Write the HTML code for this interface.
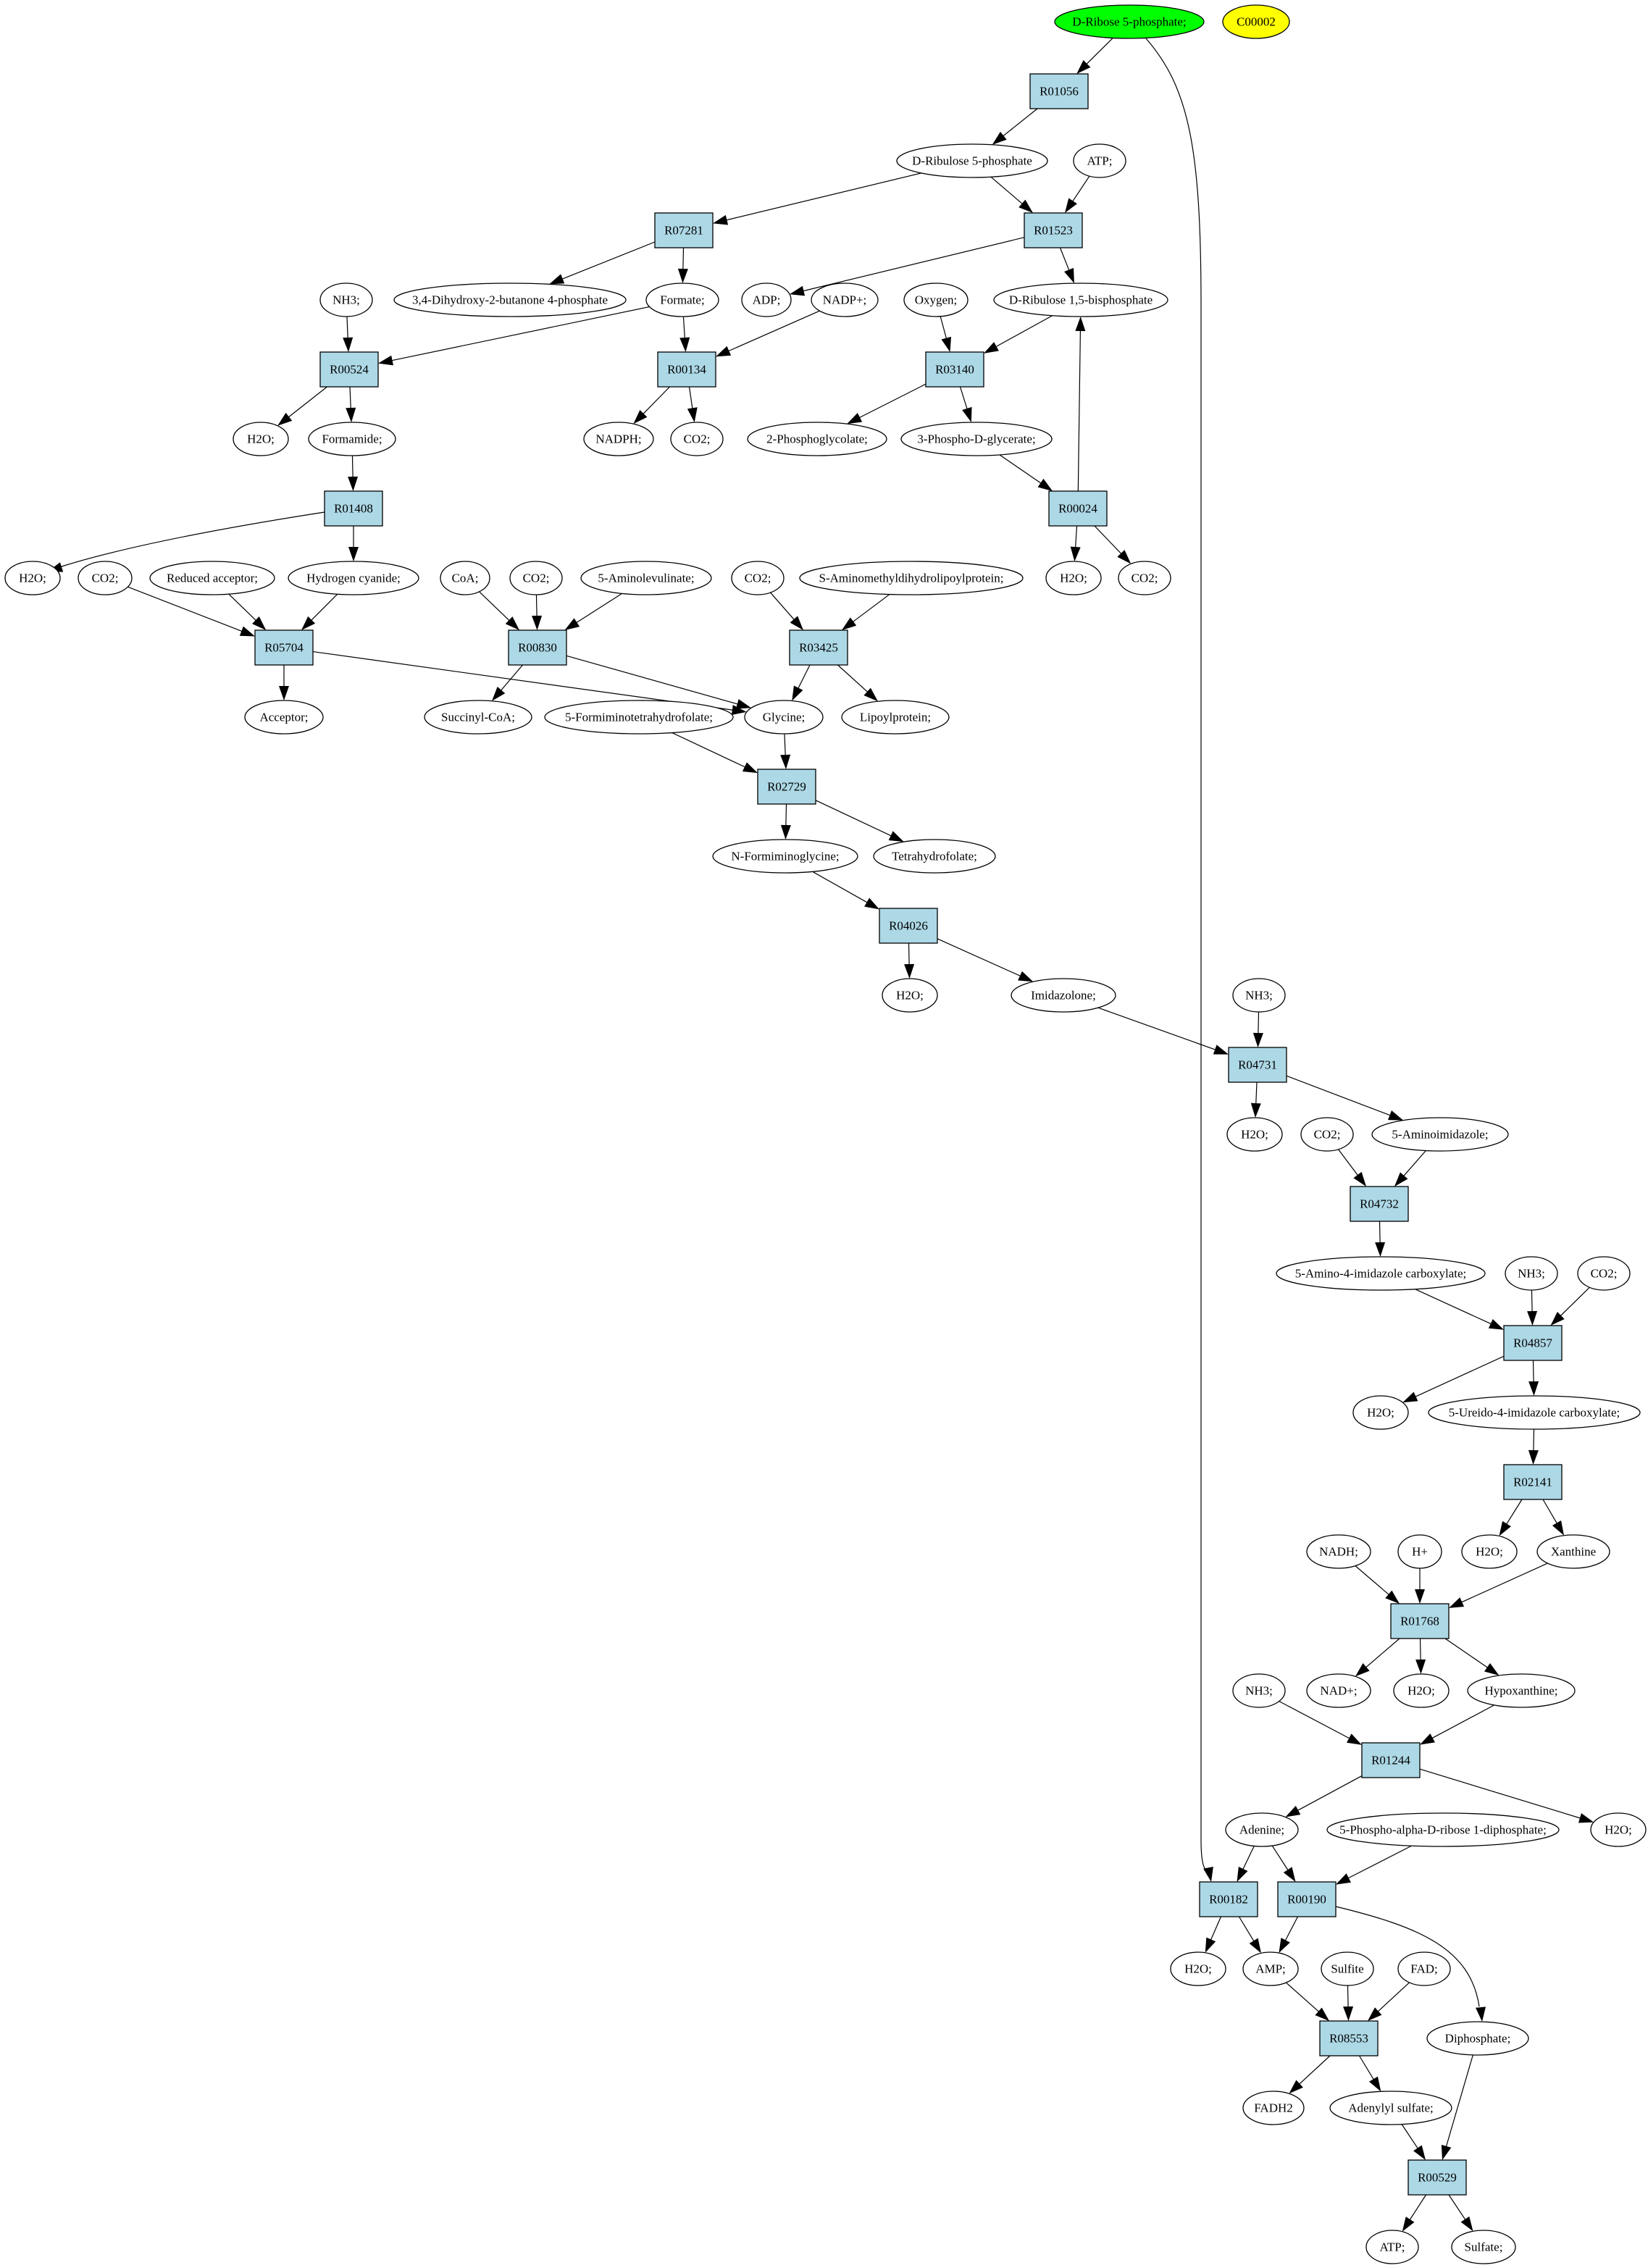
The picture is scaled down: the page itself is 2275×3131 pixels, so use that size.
<!DOCTYPE html>
<html><head><meta charset="utf-8"><style>
html,body{margin:0;padding:0;background:#fff}
svg{display:block}
text{font-family:"Liberation Serif",serif;font-size:17px;text-anchor:middle;dominant-baseline:central;fill:#000}
ellipse{fill:#fff;stroke:#000;stroke-width:1.3}
rect{fill:#add8e6;stroke:#000;stroke-width:1.3}
.ed{stroke:#000;stroke-width:1.2;fill:none}
</style></head><body>
<svg id="s" width="2275" height="3131" viewBox="0 0 2275 3131" xmlns="http://www.w3.org/2000/svg">
<g id="edges"></g>
<g id="nodes">
<g id="rib" data-t="e" data-x="1559" data-y="30" data-r="103"><ellipse cx="1559" cy="30" rx="103" ry="23" style="fill:#00ff00"/><text x="1559" y="30">D-Ribose 5-phosphate;</text></g>
<g id="c2" data-t="e" data-x="1734" data-y="30" data-r="46"><ellipse cx="1734" cy="30" rx="46" ry="23" style="fill:#ffff00"/><text x="1734" y="30">C00002</text></g>
<g id="R01056" data-t="b" data-x="1462" data-y="126"><rect x="1422" y="102" width="80" height="48"/><text x="1462" y="126">R01056</text></g>
<g id="dru5p" data-t="e" data-x="1342" data-y="222" data-r="104"><ellipse cx="1342" cy="222" rx="104" ry="23"/><text x="1342" y="222">D-Ribulose 5-phosphate</text></g>
<g id="atp1" data-t="e" data-x="1518" data-y="222" data-r="36"><ellipse cx="1518" cy="222" rx="36" ry="23"/><text x="1518" y="222">ATP;</text></g>
<g id="R07281" data-t="b" data-x="944" data-y="318"><rect x="904" y="294" width="80" height="48"/><text x="944" y="318">R07281</text></g>
<g id="R01523" data-t="b" data-x="1454" data-y="318"><rect x="1414" y="294" width="80" height="48"/><text x="1454" y="318">R01523</text></g>
<g id="dhb" data-t="e" data-x="704" data-y="414" data-r="160"><ellipse cx="704" cy="414" rx="160" ry="23"/><text x="704" y="414">3,4-Dihydroxy-2-butanone 4-phosphate</text></g>
<g id="form" data-t="e" data-x="942" data-y="414" data-r="50"><ellipse cx="942" cy="414" rx="50" ry="23"/><text x="942" y="414">Formate;</text></g>
<g id="adp" data-t="e" data-x="1058" data-y="414" data-r="34"><ellipse cx="1058" cy="414" rx="34" ry="23"/><text x="1058" y="414">ADP;</text></g>
<g id="nadp" data-t="e" data-x="1166" data-y="414" data-r="46"><ellipse cx="1166" cy="414" rx="46" ry="23"/><text x="1166" y="414">NADP+;</text></g>
<g id="oxy" data-t="e" data-x="1292" data-y="414" data-r="44"><ellipse cx="1292" cy="414" rx="44" ry="23"/><text x="1292" y="414">Oxygen;</text></g>
<g id="drubp" data-t="e" data-x="1492" data-y="414" data-r="120"><ellipse cx="1492" cy="414" rx="120" ry="23"/><text x="1492" y="414">D-Ribulose 1,5-bisphosphate</text></g>
<g id="nh3a" data-t="e" data-x="478" data-y="414" data-r="36"><ellipse cx="478" cy="414" rx="36" ry="23"/><text x="478" y="414">NH3;</text></g>
<g id="R00524" data-t="b" data-x="482" data-y="510"><rect x="442" y="486" width="80" height="48"/><text x="482" y="510">R00524</text></g>
<g id="R00134" data-t="b" data-x="948" data-y="510"><rect x="908" y="486" width="80" height="48"/><text x="948" y="510">R00134</text></g>
<g id="R03140" data-t="b" data-x="1318" data-y="510"><rect x="1278" y="486" width="80" height="48"/><text x="1318" y="510">R03140</text></g>
<g id="h2oa" data-t="e" data-x="360" data-y="606" data-r="38"><ellipse cx="360" cy="606" rx="38" ry="23"/><text x="360" y="606">H2O;</text></g>
<g id="formamide" data-t="e" data-x="486" data-y="606" data-r="60"><ellipse cx="486" cy="606" rx="60" ry="23"/><text x="486" y="606">Formamide;</text></g>
<g id="nadph" data-t="e" data-x="854" data-y="606" data-r="48"><ellipse cx="854" cy="606" rx="48" ry="23"/><text x="854" y="606">NADPH;</text></g>
<g id="co2a" data-t="e" data-x="962" data-y="606" data-r="36"><ellipse cx="962" cy="606" rx="36" ry="23"/><text x="962" y="606">CO2;</text></g>
<g id="pg2" data-t="e" data-x="1128" data-y="606" data-r="96"><ellipse cx="1128" cy="606" rx="96" ry="23"/><text x="1128" y="606">2-Phosphoglycolate;</text></g>
<g id="pg3" data-t="e" data-x="1348" data-y="606" data-r="104"><ellipse cx="1348" cy="606" rx="104" ry="23"/><text x="1348" y="606">3-Phospho-D-glycerate;</text></g>
<g id="R01408" data-t="b" data-x="488" data-y="702"><rect x="448" y="678" width="80" height="48"/><text x="488" y="702">R01408</text></g>
<g id="R00024" data-t="b" data-x="1488" data-y="702"><rect x="1448" y="678" width="80" height="48"/><text x="1488" y="702">R00024</text></g>
<g id="h2ob" data-t="e" data-x="45" data-y="798" data-r="38"><ellipse cx="45" cy="798" rx="38" ry="23"/><text x="45" y="798">H2O;</text></g>
<g id="co2b" data-t="e" data-x="145" data-y="798" data-r="37"><ellipse cx="145" cy="798" rx="37" ry="23"/><text x="145" y="798">CO2;</text></g>
<g id="redacc" data-t="e" data-x="293" data-y="798" data-r="86"><ellipse cx="293" cy="798" rx="86" ry="23"/><text x="293" y="798">Reduced acceptor;</text></g>
<g id="hcn" data-t="e" data-x="488" data-y="798" data-r="90"><ellipse cx="488" cy="798" rx="90" ry="23"/><text x="488" y="798">Hydrogen cyanide;</text></g>
<g id="coa" data-t="e" data-x="642" data-y="798" data-r="34"><ellipse cx="642" cy="798" rx="34" ry="23"/><text x="642" y="798">CoA;</text></g>
<g id="co2c" data-t="e" data-x="740" data-y="798" data-r="36"><ellipse cx="740" cy="798" rx="36" ry="23"/><text x="740" y="798">CO2;</text></g>
<g id="ala" data-t="e" data-x="892" data-y="798" data-r="90"><ellipse cx="892" cy="798" rx="90" ry="23"/><text x="892" y="798">5-Aminolevulinate;</text></g>
<g id="co2d" data-t="e" data-x="1046" data-y="798" data-r="36"><ellipse cx="1046" cy="798" rx="36" ry="23"/><text x="1046" y="798">CO2;</text></g>
<g id="sam" data-t="e" data-x="1258" data-y="798" data-r="154"><ellipse cx="1258" cy="798" rx="154" ry="23"/><text x="1258" y="798">S-Aminomethyldihydrolipoylprotein;</text></g>
<g id="h2oc" data-t="e" data-x="1482" data-y="798" data-r="38"><ellipse cx="1482" cy="798" rx="38" ry="23"/><text x="1482" y="798">H2O;</text></g>
<g id="co2e" data-t="e" data-x="1580" data-y="798" data-r="36"><ellipse cx="1580" cy="798" rx="36" ry="23"/><text x="1580" y="798">CO2;</text></g>
<g id="R05704" data-t="b" data-x="392" data-y="894"><rect x="352" y="870" width="80" height="48"/><text x="392" y="894">R05704</text></g>
<g id="R00830" data-t="b" data-x="742" data-y="894"><rect x="702" y="870" width="80" height="48"/><text x="742" y="894">R00830</text></g>
<g id="R03425" data-t="b" data-x="1130" data-y="894"><rect x="1090" y="870" width="80" height="48"/><text x="1130" y="894">R03425</text></g>
<g id="acceptor" data-t="e" data-x="392" data-y="990" data-r="54"><ellipse cx="392" cy="990" rx="54" ry="23"/><text x="392" y="990">Acceptor;</text></g>
<g id="succ" data-t="e" data-x="660" data-y="990" data-r="74"><ellipse cx="660" cy="990" rx="74" ry="23"/><text x="660" y="990">Succinyl-CoA;</text></g>
<g id="fthf" data-t="e" data-x="882" data-y="990" data-r="130"><ellipse cx="882" cy="990" rx="130" ry="23"/><text x="882" y="990">5-Formiminotetrahydrofolate;</text></g>
<g id="gly" data-t="e" data-x="1082" data-y="990" data-r="54"><ellipse cx="1082" cy="990" rx="54" ry="23"/><text x="1082" y="990">Glycine;</text></g>
<g id="lipo" data-t="e" data-x="1236" data-y="990" data-r="74"><ellipse cx="1236" cy="990" rx="74" ry="23"/><text x="1236" y="990">Lipoylprotein;</text></g>
<g id="R02729" data-t="b" data-x="1086" data-y="1086"><rect x="1046" y="1062" width="80" height="48"/><text x="1086" y="1086">R02729</text></g>
<g id="nfg" data-t="e" data-x="1084" data-y="1182" data-r="100"><ellipse cx="1084" cy="1182" rx="100" ry="23"/><text x="1084" y="1182">N-Formiminoglycine;</text></g>
<g id="thf" data-t="e" data-x="1290" data-y="1182" data-r="84"><ellipse cx="1290" cy="1182" rx="84" ry="23"/><text x="1290" y="1182">Tetrahydrofolate;</text></g>
<g id="R04026" data-t="b" data-x="1254" data-y="1278"><rect x="1214" y="1254" width="80" height="48"/><text x="1254" y="1278">R04026</text></g>
<g id="h2od" data-t="e" data-x="1256" data-y="1374" data-r="38"><ellipse cx="1256" cy="1374" rx="38" ry="23"/><text x="1256" y="1374">H2O;</text></g>
<g id="imid" data-t="e" data-x="1468" data-y="1374" data-r="72"><ellipse cx="1468" cy="1374" rx="72" ry="23"/><text x="1468" y="1374">Imidazolone;</text></g>
<g id="nh3b" data-t="e" data-x="1738" data-y="1374" data-r="36"><ellipse cx="1738" cy="1374" rx="36" ry="23"/><text x="1738" y="1374">NH3;</text></g>
<g id="R04731" data-t="b" data-x="1736" data-y="1470"><rect x="1696" y="1446" width="80" height="48"/><text x="1736" y="1470">R04731</text></g>
<g id="h2oe" data-t="e" data-x="1732" data-y="1566" data-r="38"><ellipse cx="1732" cy="1566" rx="38" ry="23"/><text x="1732" y="1566">H2O;</text></g>
<g id="co2f" data-t="e" data-x="1832" data-y="1566" data-r="36"><ellipse cx="1832" cy="1566" rx="36" ry="23"/><text x="1832" y="1566">CO2;</text></g>
<g id="ai" data-t="e" data-x="1988" data-y="1566" data-r="94"><ellipse cx="1988" cy="1566" rx="94" ry="23"/><text x="1988" y="1566">5-Aminoimidazole;</text></g>
<g id="R04732" data-t="b" data-x="1904" data-y="1662"><rect x="1864" y="1638" width="80" height="48"/><text x="1904" y="1662">R04732</text></g>
<g id="a4ic" data-t="e" data-x="1906" data-y="1758" data-r="144"><ellipse cx="1906" cy="1758" rx="144" ry="23"/><text x="1906" y="1758">5-Amino-4-imidazole carboxylate;</text></g>
<g id="nh3c" data-t="e" data-x="2114" data-y="1758" data-r="36"><ellipse cx="2114" cy="1758" rx="36" ry="23"/><text x="2114" y="1758">NH3;</text></g>
<g id="co2g" data-t="e" data-x="2214" data-y="1758" data-r="36"><ellipse cx="2214" cy="1758" rx="36" ry="23"/><text x="2214" y="1758">CO2;</text></g>
<g id="R04857" data-t="b" data-x="2116" data-y="1854"><rect x="2076" y="1830" width="80" height="48"/><text x="2116" y="1854">R04857</text></g>
<g id="h2of" data-t="e" data-x="1906" data-y="1950" data-r="38"><ellipse cx="1906" cy="1950" rx="38" ry="23"/><text x="1906" y="1950">H2O;</text></g>
<g id="ureido" data-t="e" data-x="2118" data-y="1950" data-r="146"><ellipse cx="2118" cy="1950" rx="146" ry="23"/><text x="2118" y="1950">5-Ureido-4-imidazole carboxylate;</text></g>
<g id="R02141" data-t="b" data-x="2116" data-y="2046"><rect x="2076" y="2022" width="80" height="48"/><text x="2116" y="2046">R02141</text></g>
<g id="h2og" data-t="e" data-x="2056" data-y="2142" data-r="38"><ellipse cx="2056" cy="2142" rx="38" ry="23"/><text x="2056" y="2142">H2O;</text></g>
<g id="xan" data-t="e" data-x="2172" data-y="2142" data-r="50"><ellipse cx="2172" cy="2142" rx="50" ry="23"/><text x="2172" y="2142">Xanthine</text></g>
<g id="nadh" data-t="e" data-x="1848" data-y="2142" data-r="44"><ellipse cx="1848" cy="2142" rx="44" ry="23"/><text x="1848" y="2142">NADH;</text></g>
<g id="hplus" data-t="e" data-x="1960" data-y="2142" data-r="30"><ellipse cx="1960" cy="2142" rx="30" ry="23"/><text x="1960" y="2142">H+</text></g>
<g id="R01768" data-t="b" data-x="1960" data-y="2238"><rect x="1920" y="2214" width="80" height="48"/><text x="1960" y="2238">R01768</text></g>
<g id="nad" data-t="e" data-x="1848" data-y="2334" data-r="44"><ellipse cx="1848" cy="2334" rx="44" ry="23"/><text x="1848" y="2334">NAD+;</text></g>
<g id="h2oh" data-t="e" data-x="1962" data-y="2334" data-r="38"><ellipse cx="1962" cy="2334" rx="38" ry="23"/><text x="1962" y="2334">H2O;</text></g>
<g id="hypo" data-t="e" data-x="2100" data-y="2334" data-r="74"><ellipse cx="2100" cy="2334" rx="74" ry="23"/><text x="2100" y="2334">Hypoxanthine;</text></g>
<g id="nh3d" data-t="e" data-x="1738" data-y="2334" data-r="36"><ellipse cx="1738" cy="2334" rx="36" ry="23"/><text x="1738" y="2334">NH3;</text></g>
<g id="R01244" data-t="b" data-x="1920" data-y="2430"><rect x="1880" y="2406" width="80" height="48"/><text x="1920" y="2430">R01244</text></g>
<g id="ade" data-t="e" data-x="1742" data-y="2526" data-r="50"><ellipse cx="1742" cy="2526" rx="50" ry="23"/><text x="1742" y="2526">Adenine;</text></g>
<g id="prpp" data-t="e" data-x="1992" data-y="2526" data-r="160"><ellipse cx="1992" cy="2526" rx="160" ry="23"/><text x="1992" y="2526">5-Phospho-alpha-D-ribose 1-diphosphate;</text></g>
<g id="h2oi" data-t="e" data-x="2234" data-y="2526" data-r="38"><ellipse cx="2234" cy="2526" rx="38" ry="23"/><text x="2234" y="2526">H2O;</text></g>
<g id="R00182" data-t="b" data-x="1696" data-y="2622"><rect x="1656" y="2598" width="80" height="48"/><text x="1696" y="2622">R00182</text></g>
<g id="R00190" data-t="b" data-x="1804" data-y="2622"><rect x="1764" y="2598" width="80" height="48"/><text x="1804" y="2622">R00190</text></g>
<g id="h2oj" data-t="e" data-x="1654" data-y="2718" data-r="38"><ellipse cx="1654" cy="2718" rx="38" ry="23"/><text x="1654" y="2718">H2O;</text></g>
<g id="amp" data-t="e" data-x="1754" data-y="2718" data-r="38"><ellipse cx="1754" cy="2718" rx="38" ry="23"/><text x="1754" y="2718">AMP;</text></g>
<g id="sulfite" data-t="e" data-x="1860" data-y="2718" data-r="36"><ellipse cx="1860" cy="2718" rx="36" ry="23"/><text x="1860" y="2718">Sulfite</text></g>
<g id="fad" data-t="e" data-x="1966" data-y="2718" data-r="36"><ellipse cx="1966" cy="2718" rx="36" ry="23"/><text x="1966" y="2718">FAD;</text></g>
<g id="R08553" data-t="b" data-x="1862" data-y="2814"><rect x="1822" y="2790" width="80" height="48"/><text x="1862" y="2814">R08553</text></g>
<g id="diph" data-t="e" data-x="2040" data-y="2814" data-r="70"><ellipse cx="2040" cy="2814" rx="70" ry="23"/><text x="2040" y="2814">Diphosphate;</text></g>
<g id="fadh2" data-t="e" data-x="1758" data-y="2910" data-r="42"><ellipse cx="1758" cy="2910" rx="42" ry="23"/><text x="1758" y="2910">FADH2</text></g>
<g id="aps" data-t="e" data-x="1920" data-y="2910" data-r="84"><ellipse cx="1920" cy="2910" rx="84" ry="23"/><text x="1920" y="2910">Adenylyl sulfate;</text></g>
<g id="R00529" data-t="b" data-x="1984" data-y="3006"><rect x="1944" y="2982" width="80" height="48"/><text x="1984" y="3006">R00529</text></g>
<g id="atp2" data-t="e" data-x="1922" data-y="3102" data-r="36"><ellipse cx="1922" cy="3102" rx="36" ry="23"/><text x="1922" y="3102">ATP;</text></g>
<g id="sulfate" data-t="e" data-x="2048" data-y="3102" data-r="44"><ellipse cx="2048" cy="3102" rx="44" ry="23"/><text x="2048" y="3102">Sulfate;</text></g>
</g>
</svg>
<script>
(function(){
var NS="http://www.w3.org/2000/svg";
var E=[["rib","R01056"],["R01056","dru5p"],["dru5p","R07281"],["dru5p","R01523"],["atp1","R01523"],
["R07281","dhb"],["R07281","form"],["R01523","adp"],["R01523","drubp"],
["nh3a","R00524"],["form","R00524"],["form","R00134"],["nadp","R00134"],["oxy","R03140"],["drubp","R03140"],
["R00524","h2oa"],["R00524","formamide"],["R00134","nadph"],["R00134","co2a"],["R03140","pg2"],["R03140","pg3"],
["formamide","R01408"],["pg3","R00024"],["R00024","drubp"],["R00024","h2oc"],["R00024","co2e"],
["R01408","hcn"],["co2b","R05704"],["redacc","R05704"],["hcn","R05704"],
["R05704","acceptor"],["R05704","gly"],["coa","R00830"],["co2c","R00830"],["ala","R00830"],
["R00830","succ"],["R00830","gly"],["co2d","R03425"],["sam","R03425"],["R03425","gly"],["R03425","lipo"],
["gly","R02729"],["fthf","R02729"],["R02729","nfg"],["R02729","thf"],["nfg","R04026"],["R04026","h2od"],["R04026","imid"],
["imid","R04731"],["nh3b","R04731"],["R04731","h2oe"],["R04731","ai"],["co2f","R04732"],["ai","R04732"],["R04732","a4ic"],
["a4ic","R04857"],["nh3c","R04857"],["co2g","R04857"],["R04857","h2of"],["R04857","ureido"],["ureido","R02141"],
["R02141","h2og"],["R02141","xan"],["nadh","R01768"],["hplus","R01768"],["xan","R01768"],
["R01768","nad"],["R01768","h2oh"],["R01768","hypo"],["nh3d","R01244"],["hypo","R01244"],["R01244","ade"],["R01244","h2oi"],
["ade","R00182"],["ade","R00190"],["prpp","R00190"],["R00182","h2oj"],["R00182","amp"],["R00190","amp"],
["amp","R08553"],["sulfite","R08553"],["fad","R08553"],["R08553","fadh2"],["R08553","aps"],["aps","R00529"],["diph","R00529"],
["R00529","atp2"],["R00529","sulfate"]];
function g(id){var n=document.getElementById(id);return {t:n.getAttribute("data-t"),x:+n.getAttribute("data-x"),y:+n.getAttribute("data-y"),r:+n.getAttribute("data-r")};}
function clip(n,dx,dy){var L=Math.sqrt(dx*dx+dy*dy),ux=dx/L,uy=dy/L,t;
 if(n.t=="b"){t=Math.min(ux?40/Math.abs(ux):1e9,uy?24/Math.abs(uy):1e9);}
 else{t=1/Math.sqrt((ux/n.r)*(ux/n.r)+(uy/23)*(uy/23));}
 return [n.x+ux*t,n.y+uy*t];}
var eg=document.getElementById("edges");
function arrow(px,py,ux,uy){var p=document.createElementNS(NS,"polygon");var l=20,w=7;
 var L=Math.sqrt(ux*ux+uy*uy);ux/=L;uy/=L;
 var bx=px-ux*l,by=py-uy*l;
 p.setAttribute("points",px+","+py+" "+(bx-uy*w)+","+(by+ux*w)+" "+(bx+uy*w)+","+(by-ux*w));
 p.setAttribute("fill","#000");eg.appendChild(p);}
E.forEach(function(e){var a=g(e[0]),b=g(e[1]);var dx=b.x-a.x,dy=b.y-a.y;
 var s=clip(a,dx,dy),t=clip(b,-dx,-dy);var L=Math.sqrt(dx*dx+dy*dy),ux=dx/L,uy=dy/L;
 var ln=document.createElementNS(NS,"line");ln.setAttribute("class","ed");
 ln.setAttribute("x1",s[0]);ln.setAttribute("y1",s[1]);ln.setAttribute("x2",t[0]-ux*18);ln.setAttribute("y2",t[1]-uy*18);
 eg.appendChild(ln);arrow(t[0],t[1],ux,uy);});
function path(d){var p=document.createElementNS(NS,"path");p.setAttribute("class","ed");p.setAttribute("d",d);eg.appendChild(p);}
path("M1582,53 C1640,120 1658,200 1658,420 L1658,2540 C1658,2570 1662,2585 1668,2580");
arrow(1672,2598,0.2,0.98);
path("M448,707 C300,730 170,755 82,783");
arrow(66,789,-0.95,0.3);
path("M1844,2632 C1960,2660 2030,2690 2042,2770");
arrow(2046,2791,0.1,1);
})();
</script>
</body></html>
